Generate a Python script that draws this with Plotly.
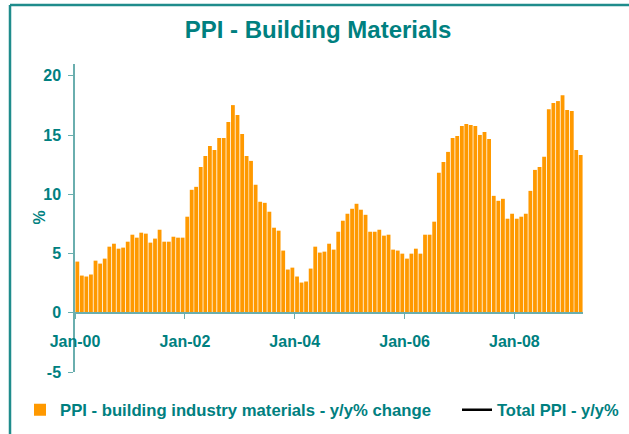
import pandas as pd
import plotly.graph_objects as go

# Monthly observations, Jan 2000 - Mar 2009
months = pd.date_range("2000-01-01", "2009-03-01", freq="MS")

# PPI - building industry materials, y/y % change
ppi_building = [
    4.32, 3.14, 3.06, 3.23, 4.40, 4.15, 4.57, 5.58, 5.83, 5.41, 5.50, 6.00,          # 2000
    6.59, 6.34, 6.76, 6.68, 5.92, 6.26, 7.01, 6.00, 6.00, 6.42, 6.34, 6.34,          # 2001
    8.11, 10.38, 10.63, 12.31, 13.24, 14.08, 13.74, 14.75, 14.75, 16.10, 17.53, 16.69,  # 2002
    15.09, 13.24, 12.82, 10.80, 9.37, 9.28, 8.53, 7.18, 6.93, 5.25, 3.65, 3.81,      # 2003
    3.06, 2.55, 2.64, 3.73, 5.58, 5.08, 5.16, 5.83, 5.33, 6.84, 7.77, 8.36,          # 2004
    8.78, 9.20, 8.70, 8.27, 6.84, 6.84, 7.01, 6.51, 6.59, 5.33, 5.25, 4.99,          # 2005
    4.57, 4.99, 5.41, 4.99, 6.59, 6.59, 7.69, 11.81, 12.73, 13.58, 14.75, 14.92,     # 2006
    15.76, 15.93, 15.85, 15.76, 15.01, 15.26, 14.67, 9.87, 9.45, 9.62, 7.94, 8.36,   # 2007
    7.94, 8.11, 8.36, 10.29, 12.06, 12.31, 13.16, 17.19, 17.70, 17.87, 18.37, 17.11, # 2008
    17.03, 13.74, 13.32,                                                              # 2009
]

# Total PPI series appears only in the legend
total_ppi = [None]

# y-axis ticks (plain hyphen for the negative label, as in the original)
y_tickvals = [-5, 0, 5, 10, 15, 20]
y_ticktext = ["-5", "0", "5", "10", "15", "20"]

TEAL = "#008080"
AXIS = "#6aaeae"
FRAME = "#1f8c8c"
ORANGE = "#ff9900"
FONT = "Liberation Sans, Arial, sans-serif"

W, H = 629, 434
ML, MR, MT, MB = 75, 46, 64, 62
PW, PH = W - ML - MR, H - MT - MB


def px_x(px):
    return (px - ML) / PW


def px_y(py):
    return (H - MB - py) / PH


fig = go.Figure()

fig.add_trace(go.Bar(
    x=months,
    y=ppi_building,
    xperiod="M1",
    xperiodalignment="middle",
    marker=dict(color=ORANGE, line_width=0),
    name="PPI - building industry materials - y/y% change",
    legend="legend",
))

fig.add_trace(go.Scatter(
    x=total_ppi,
    y=total_ppi,
    mode="lines",
    line=dict(color="black", width=2.5),
    name="Total PPI - y/y%",
    legend="legend2",
))

# outer frame (left and top edges visible)
fig.add_shape(type="line", xref="paper", yref="paper",
              x0=px_x(10), x1=px_x(10), y0=px_y(5), y1=px_y(H + 20),
              line=dict(color=FRAME, width=2.5))
fig.add_shape(type="line", xref="paper", yref="paper",
              x0=px_x(10), x1=px_x(W + 20), y0=px_y(5), y1=px_y(5),
              line=dict(color=FRAME, width=2.5))

# y-axis title
fig.add_annotation(
    text="<b>%</b>", xref="paper", yref="paper",
    x=px_x(28), y=px_y(218), showarrow=False, textangle=-90,
    font=dict(family=FONT, size=16, color=TEAL),
)

y_min, y_max = -5, 21

fig.update_layout(
    width=W,
    height=H,
    margin=dict(l=ML, r=MR, t=MT, b=MB, autoexpand=False),
    paper_bgcolor="white",
    plot_bgcolor="white",
    font=dict(family=FONT, color=TEAL),
    title=dict(
        text="<b>PPI - Building Materials</b>",
        font=dict(family=FONT, size=24, color=TEAL),
        xref="container", yref="container",
        x=318 / W, y=1 - 30 / H,
        xanchor="center", yanchor="middle",
    ),
    bargap=0.14,
    xaxis=dict(
        type="date",
        range=["2000-01-01", "2009-04-01"],
        anchor="free",
        position=(0 - y_min) / (y_max - y_min),
        tick0="2000-01-01",
        dtick="M24",
        tickformat="%b-%y",
        ticks="outside",
        ticklen=5,
        tickcolor=AXIS,
        ticklabelstandoff=9,
        showline=True,
        linecolor=AXIS,
        linewidth=1.5,
        showgrid=False,
        zeroline=False,
        tickfont=dict(family=FONT, size=16, color=TEAL, weight="bold"),
    ),
    yaxis=dict(
        range=[y_min, y_max],
        tickvals=y_tickvals,
        ticktext=y_ticktext,
        ticks="outside",
        ticklen=5,
        tickcolor=AXIS,
        ticklabelstandoff=4,
        showline=True,
        linecolor=AXIS,
        linewidth=1.5,
        showgrid=False,
        zeroline=False,
        tickfont=dict(family=FONT, size=16, color=TEAL, weight="bold"),
    ),
    showlegend=True,
    legend=dict(
        x=px_x(20), y=px_y(410), xanchor="left", yanchor="middle",
        orientation="h", bgcolor="rgba(0,0,0,0)",
        font=dict(family=FONT, size=16.7, color=TEAL, weight="bold"),
    ),
    legend2=dict(
        x=px_x(457), y=px_y(410), xanchor="left", yanchor="middle",
        orientation="h", bgcolor="rgba(0,0,0,0)",
        font=dict(family=FONT, size=16.5, color=TEAL, weight="bold"),
    ),
)

# drop the browser's default page margin so the figure sits at the window corner
fig.write_html(
    "out.html",
    config={"displayModeBar": False},
    post_script="document.body.style.margin = '0';",
)
